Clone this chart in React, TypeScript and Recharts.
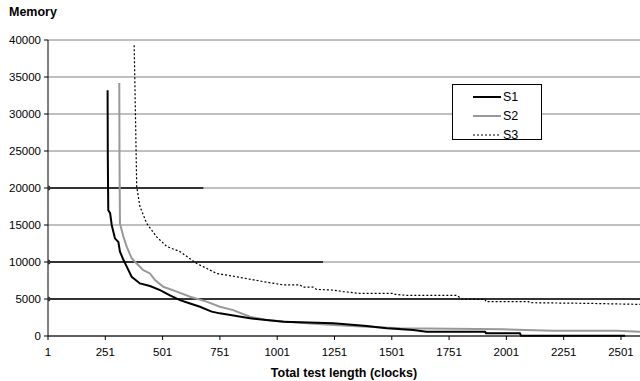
import { LineChart, Line, XAxis, YAxis, CartesianGrid, Legend } from "recharts";

const FONT = "Arial, 'Liberation Sans', sans-serif";

// axis ticks
const xTicks = [1, 251, 501, 751, 1001, 1251, 1501, 1751, 2001, 2251, 2501];
const yTicks = [0, 5000, 10000, 15000, 20000, 25000, 30000, 35000, 40000];

// S1 (solid black)
const s1X = [261, 262, 264, 272, 279, 293, 308, 315, 330, 344, 366, 402, 446, 490, 533, 577, 621, 664, 715, 751, 882, 1028, 1246, 1392, 1479, 1595, 1653, 1908, 1912, 2060, 2065, 2519];
const s1Y = [33200, 24000, 17000, 16600, 15000, 13200, 12700, 11400, 10300, 9400, 8000, 7100, 6750, 6200, 5500, 4850, 4400, 3950, 3290, 3060, 2390, 1940, 1720, 1350, 1040, 810, 580, 580, 360, 360, 50, 50];

// S2 (gray)
const s2X = [312, 313, 315, 330, 344, 366, 388, 417, 446, 468, 504, 563, 621, 693, 751, 809, 882, 955, 1100, 1246, 1392, 1537, 1986, 2204, 2482, 2584];
const s2Y = [34200, 24000, 15200, 13400, 12100, 10500, 9800, 8900, 8450, 7550, 6650, 6000, 5300, 4650, 3950, 3500, 2600, 2150, 1800, 1500, 1250, 1050, 900, 720, 720, 580];

// S3 (dotted)
const s3X = [377, 383, 388, 402, 432, 475, 519, 577, 650, 737, 824, 940, 1028, 1100, 1115, 1158, 1173, 1246, 1289, 1362, 1508, 1515, 1566, 1784, 1806, 1908, 1912, 2097, 2104, 2358, 2570, 2584];
const s3Y = [39300, 29200, 20200, 17500, 15200, 13400, 12100, 11400, 9800, 8450, 8000, 7350, 6900, 6900, 6600, 6600, 6300, 6200, 6000, 5760, 5760, 5630, 5490, 5490, 5000, 4950, 4640, 4640, 4500, 4410, 4280, 4270];

// horizontal limit lines
const limitLevels = [20000, 10000, 5000];
const limitEnds = [679, 1201, 2584];

const seriesNames = ["S1", "S2", "S3"];

const zip = (xs: number[], ys: number[]) => xs.map((x, i) => ({ x, y: ys[i] }));

const s1Data = zip(s1X, s1Y);
const s2Data = zip(s2X, s2Y);
const s3Data = zip(s3X, s3Y);
const limitData = limitLevels.map((lv, i) => [
  { x: 1, y: lv },
  { x: limitEnds[i], y: lv },
]);

const seriesStyle: Record<string, { stroke: string; width: number; dash?: string }> = {
  S1: { stroke: "#000000", width: 2 },
  S2: { stroke: "#999999", width: 2 },
  S3: { stroke: "#000000", width: 1.2, dash: "2 2" },
};

const LegendBox = () => (
  <div
    style={{
      border: "1px solid #000",
      background: "#fff",
      width: 90,
      height: 56,
      boxSizing: "border-box",
      padding: "2px 0 0 20px",
      fontFamily: FONT,
      fontSize: 12.5,
    }}
  >
    {seriesNames.map((n) => {
      const st = seriesStyle[n];
      return (
        <div key={n} style={{ display: "flex", alignItems: "center", height: 19.3 }}>
          <svg width={29} height={6}>
            <line x1={0} y1={3} x2={28} y2={3} stroke={st.stroke} strokeWidth={st.width} strokeDasharray={st.dash} />
          </svg>
          <span style={{ marginLeft: 1, color: "#000" }}>{n}</span>
        </div>
      );
    })}
  </div>
);

const startDot = (color: string) => (props: any) => {
  if (props.index !== 0) return <g key={`d-${props.index}`} />;
  return <circle key={`d-${props.index}`} cx={props.cx} cy={props.cy} r={2.5} fill={color} stroke="none" />;
};

export default function App() {
  return (
    <div style={{ position: "absolute", left: 0, top: 0, width: 640, height: 381, background: "#fff" }}>
      <div
        style={{
          position: "absolute",
          left: 9,
          top: 5,
          fontFamily: FONT,
          fontSize: 12.5,
          fontWeight: "bold",
          color: "#000",
        }}
      >
        Memory
      </div>
      <LineChart width={640} height={381} margin={{ top: 40, right: 0, bottom: 0, left: 0 }}>
        <CartesianGrid horizontal vertical={false} stroke="#808080" strokeWidth={1} />
        <XAxis
          type="number"
          dataKey="x"
          domain={[1, 2584]}
          ticks={xTicks}
          allowDataOverflow
          height={45}
          tickSize={4}
          tickMargin={8}
          axisLine={{ stroke: "#000" }}
          tickLine={{ stroke: "#000" }}
          tick={{ fill: "#000", fontSize: 11.5, fontFamily: FONT }}
          interval={0}
          label={{
            value: "Total test length (clocks)",
            position: "insideBottom",
            offset: 4,
            fill: "#000",
            fontSize: 12.5,
            fontWeight: "bold",
            fontFamily: FONT,
          }}
        />
        <YAxis
          type="number"
          dataKey="y"
          domain={[0, 40000]}
          ticks={yTicks}
          width={48}
          tickSize={4}
          tickMargin={3}
          axisLine={{ stroke: "#000" }}
          tickLine={{ stroke: "#000" }}
          tick={{ fill: "#000", fontSize: 11.5, fontFamily: FONT }}
          interval={0}
        />
        {limitData.map((d, i) => (
          <Line
            key={`lim-${i}`}
            data={d}
            dataKey="y"
            type="linear"
            stroke="#333333"
            strokeWidth={2}
            dot={startDot("#333333")}
            activeDot={false}
            legendType="none"
            isAnimationActive={false}
          />
        ))}
        <Line data={s3Data} dataKey="y" name="S3" type="linear" stroke="#000" strokeWidth={1.2} strokeDasharray="2 2" dot={false} isAnimationActive={false} />
        <Line data={s2Data} dataKey="y" name="S2" type="linear" stroke="#999999" strokeWidth={2} dot={false} isAnimationActive={false} />
        <Line data={s1Data} dataKey="y" name="S1" type="linear" stroke="#000" strokeWidth={2} dot={false} isAnimationActive={false} />
        <Legend
          layout="horizontal"
          verticalAlign="middle"
          align="center"
          content={() => <LegendBox />}
          wrapperStyle={{ left: 452, top: 84, width: 92, height: 58 }}
        />
      </LineChart>
    </div>
  );
}
